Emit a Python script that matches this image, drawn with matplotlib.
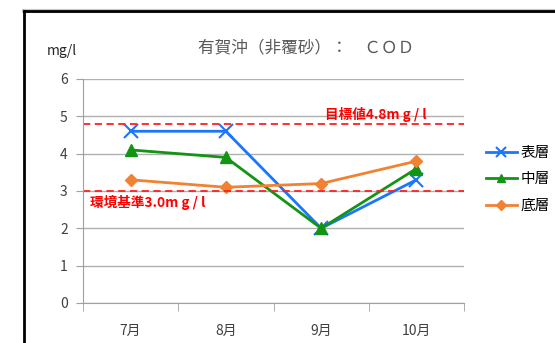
import matplotlib.pyplot as plt
from matplotlib.lines import Line2D

plt.rcParams['font.family'] = ['Noto Sans CJK JP', 'DejaVu Sans']

months = ['7月', '8月', '9月', '10月']
surface = [4.6, 4.6, 2.0, 3.3]   # 表層
middle = [4.1, 3.9, 2.0, 3.6]    # 中層
bottom = [3.3, 3.1, 3.2, 3.8]    # 底層
target_value = 4.8
env_standard = 3.0

fig = plt.figure(figsize=(5.55, 3.43), dpi=100)
ax = fig.add_axes([83 / 555, 1 - 303 / 343, 381 / 555, 224 / 343])

x = range(len(months))
ax.plot(x, surface, color='#1a75ff', lw=2, marker='x', ms=10, mew=1.5, label='表層')
ax.plot(x, middle, color='#149414', lw=2, marker='^', ms=8.5, label='中層')
ax.plot(x, bottom, color='#f08232', lw=2, marker='D', ms=6.5, label='底層')

# reference lines
ax.axhline(target_value, color='#ff2020', ls=(0, (4, 2.5)), lw=1.3)
ax.axhline(env_standard, color='#ff2020', ls=(0, (4, 2.5)), lw=1.3)
ax.text(2.04, 4.86, '目標値4.8m g / l', color='#ff0000', fontsize=9.8, fontweight='bold',
        va='bottom', ha='left')
ax.text(-0.43, 2.9, '環境基準3.0m g / l', color='#ff0000', fontsize=9.8, fontweight='bold',
        va='top', ha='left')

ax.set_xlim(-0.5, 3.5)
ax.set_ylim(0, 6)
ax.set_yticks(range(0, 7))
ax.set_xticks(x)
ax.set_xticklabels(months)
ax.set_xticks([-0.5, 0.5, 1.5, 2.5, 3.5], minor=True)
ax.tick_params(axis='x', which='major', length=0, pad=15, labelsize=10, colors='#404040')
ax.tick_params(axis='x', which='minor', length=6, color='#a0a0a0')
ax.tick_params(axis='y', length=5, color='#a0a0a0', labelsize=10, colors='#404040', pad=6)
ax.yaxis.grid(True, color='#b0b0b0', lw=1)
ax.set_axisbelow(True)
for s in ['top', 'right']:
    ax.spines[s].set_visible(False)
ax.spines['left'].set_color('#a0a0a0')
ax.spines['bottom'].set_color('#a0a0a0')

fig.text(306 / 555, 1 - 48 / 343, '有賀沖（非覆砂）：　ＣＯＤ', ha='center', va='center',
         fontsize=12, color='#595959')
fig.text(47 / 555, 1 - 51 / 343, 'mg/l', ha='left', va='center', fontsize=10, color='#262626')

leg = fig.legend(loc='upper left', bbox_to_anchor=(486 / 555, 1 - 146 / 343), frameon=False,
                 fontsize=10.5, handlelength=2.1, labelspacing=0.85, handletextpad=0.25,
                 borderpad=0, borderaxespad=0, markerscale=0.75)

# outer frame (only top and left edges are visible)
fig.add_artist(Line2D([24 / 555, 1], [1 - 11 / 343, 1 - 11 / 343], color='#c8c8c8', lw=3))
fig.add_artist(Line2D([24 / 555, 1], [1 - 11 / 343, 1 - 11 / 343], color='black', lw=2))
fig.add_artist(Line2D([24 / 555, 24 / 555], [0, 1 - 11 / 343], color='black', lw=2))

plt.savefig('out.png', dpi=100)
